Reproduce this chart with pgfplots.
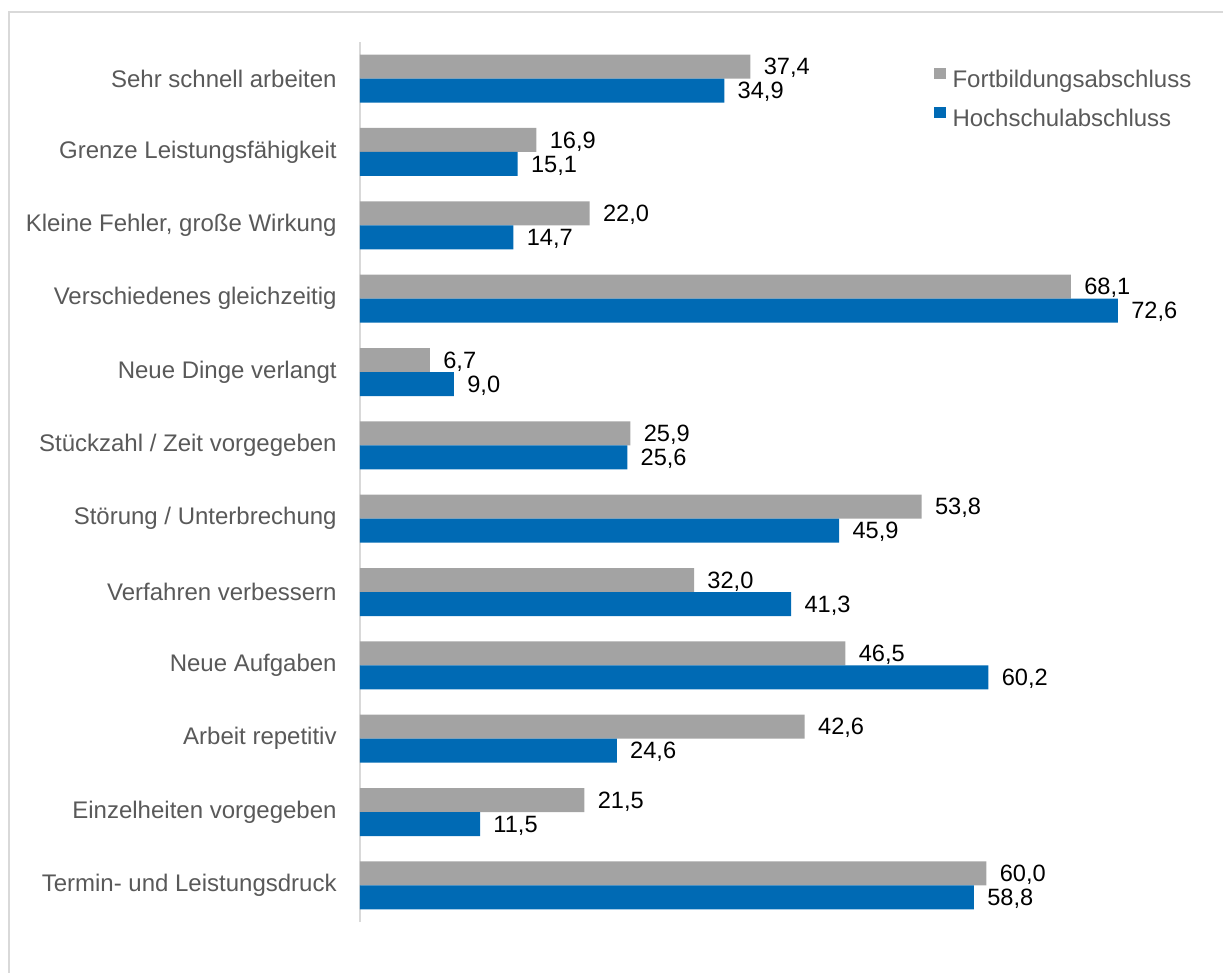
\documentclass[border=0pt]{standalone}
\usepackage{pgfplots}
\pgfplotsset{compat=1.18}
\usepackage{fontspec}
\setmainfont{Liberation Sans}
\definecolor{barGrey}{RGB}{163,163,163}
\definecolor{barBlue}{RGB}{0,106,180}
\definecolor{lblGrey}{RGB}{89,89,89}
\definecolor{frameGrey}{RGB}{217,217,217}
\begin{document}
\begin{tikzpicture}
\useasboundingbox (0,0) rectangle (611.5pt,-486.5pt);
\draw[frameGrey, line width=1pt] (4.5pt,-486.5pt) -- (4.5pt,-6pt) -- (611.5pt,-6pt);
\begin{axis}[
  at={(180pt,-461pt)}, anchor=south west,
  scale only axis, width=417.6pt, height=440pt,
  xmin=0, xmax=80, ymin=-0.5, ymax=11.5,
  clip=false,
  xbar, bar width=12pt,
  axis x line=none,
  axis y line*=left,
  y axis line style={frameGrey, line width=1pt, -},
  xtick=\empty,
  ytick={0,...,11},
  major tick length=0pt,
  yticklabels={Termin- und Leistungsdruck, Einzelheiten vorgegeben, Arbeit repetitiv, Neue Aufgaben, Verfahren verbessern, Störung / Unterbrechung, Stückzahl / Zeit vorgegeben, Neue Dinge verlangt, Verschiedenes gleichzeitig, {Kleine Fehler, große Wirkung}, Grenze Leistungsfähigkeit, Sehr schnell arbeiten},
  yticklabel style={font=\fontsize{12pt}{14pt}\selectfont, text=lblGrey, anchor=east, inner sep=0pt, xshift=-11.5pt},
  point meta=x,
  nodes near coords={\pgfmathprintnumber[fixed,fixed zerofill,precision=1,use comma,assume math mode=true]{\pgfplotspointmeta}},
  nodes near coords style={font=\fontsize{11.8pt}{14pt}\selectfont, text=black, anchor=west, inner sep=0pt, xshift=6.5pt, text depth=0pt},
  legend image code/.code={\fill[#1] (0pt,0.85pt) rectangle (6pt,6.65pt);},
  legend cell align=left,
  legend style={at={(0.6862,0.9711)}, anchor=north west, draw=none, fill=none, inner sep=0pt,
    font=\fontsize{12pt}{14pt}\selectfont, text=lblGrey, row sep=7.2pt, column sep=0pt,
    nodes={inner sep=0pt, inner xsep=3.5pt, text height=8.8pt, text depth=2.5pt}},
]
\addplot[fill=barGrey, draw=none, bar shift=6pt] coordinates {
  (60.0,0) (21.5,1) (42.6,2) (46.5,3) (32.0,4) (53.8,5) (25.9,6) (6.7,7) (68.1,8) (22.0,9) (16.9,10) (37.4,11)
};
\addlegendentry{Fortbildungsabschluss}
\addplot[fill=barBlue, draw=none, bar shift=-6pt] coordinates {
  (58.8,0) (11.5,1) (24.6,2) (60.2,3) (41.3,4) (45.9,5) (25.6,6) (9.0,7) (72.6,8) (14.7,9) (15.1,10) (34.9,11)
};
\addlegendentry{Hochschulabschluss}
\end{axis}
\end{tikzpicture}
\end{document}
